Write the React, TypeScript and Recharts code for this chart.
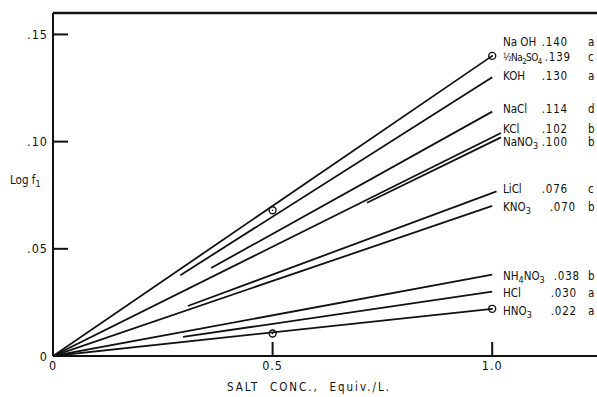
import React from 'react';
import { ComposedChart, Line, Scatter, XAxis, YAxis, ReferenceLine } from 'recharts';

// Salting-out coefficients: slope of log f1 against salt concentration
const salts = ['NaOH', 'KOH', 'NaCl', 'KCl', 'NaNO3', 'LiCl', 'KNO3', 'NH4NO3', 'HCl', 'HNO3'];
const slopes = [0.14, 0.13, 0.114, 0.102, 0.1, 0.076, 0.07, 0.038, 0.03, 0.022];
// concentration range over which each straight line is drawn (Equiv./L.)
const concFrom = [0, 0.29, 0.36, 0, 0.715, 0.307, 0, 0, 0.296, 0];
const concTo = [1.0, 1.0, 1.0, 1.02, 1.02, 1.01, 1.0, 1.0, 1.0, 1.0];

// circled experimental points
const markConc = [0.5, 1.0, 0.5, 1.0];
const markLogF = [0.068, 0.14, 0.0105, 0.022];

// key on the right-hand side
const keyNames = ['Na OH', '½Na_2SO_4', 'KOH', 'NaCl', 'KCl', 'NaNO_3', 'LiCl', 'KNO_3', 'NH_4NO_3', 'HCl', 'HNO_3'];
const keyValues = ['.140', '.139', '.130', '.114', '.102', '.100', '.076', '.070', '.038', '.030', '.022'];
const keySources = ['a', 'c', 'a', 'd', 'b', 'b', 'c', 'b', 'b', 'a', 'a'];

const xTicks = [0, 0.5, 1.0];
const xTickLabels = ['0', '0.5', '1.0'];
const yTicks = [0, 0.05, 0.1, 0.15];
const yTickLabels = ['0', '.05', '.10', '.15'];

// layout of the key rows (vertical position in log f units, column offsets in px)
const KEY_X = 1.0246;
const KEY_ROW_Y = [0.1463, 0.1393, 0.1304, 0.1154, 0.1061, 0.1, 0.0778, 0.0696, 0.0374, 0.0294, 0.021];
const KEY_VALUE_END = [65, 68, 65, 65, 65, 65, 65, 73, 77, 74, 74];
const KEY_NAME_SIZE = [11.5, 10, 11.5, 11.5, 11.5, 11.5, 11.5, 11.5, 11.5, 11.5, 11.5];
const KEY_NAME_SPACING = [0, -0.6, 0, 0, 0, 0, 0, 0, 0, 0, 0];

const FONT = "'DejaVu Sans Condensed', 'DejaVu Sans', sans-serif";
const INK = '#111';

const lineData = salts.map((_, i) => [
  { x: concFrom[i], y: slopes[i] * concFrom[i] },
  { x: concTo[i], y: slopes[i] * concTo[i] },
]);
const markData = markConc.map((x, i) => ({ x, y: markLogF[i] }));
const keyData = keyNames.map((_, i) => ({ x: KEY_X, y: KEY_ROW_Y[i], i }));

function chem(name: string, size: number) {
  const out: React.ReactNode[] = [];
  let low = false;
  name.split(/(_\d)/).filter(Boolean).forEach((p, k) => {
    if (p[0] === '_') {
      out.push(
        <tspan key={k} dy={low ? undefined : 3} fontSize={size * 0.78}>
          {p.slice(1)}
        </tspan>
      );
      low = true;
    } else {
      out.push(
        <tspan key={k} dy={low ? -3 : undefined}>
          {p}
        </tspan>
      );
      low = false;
    }
  });
  return out;
}

const YTick = (props: any) => {
  const { x, y, payload } = props;
  const idx = yTicks.indexOf(payload.value);
  return (
    <g>
      <text x={x} y={y + 4.5} textAnchor="end" fontSize={12.5} letterSpacing={1} fill={INK} fontFamily={FONT}>
        {yTickLabels[idx]}
      </text>
      {payload.value > 0 && <line x1={x + 5} x2={x + 20} y1={y} y2={y} stroke={INK} strokeWidth={2} />}
    </g>
  );
};

const XTick = (props: any) => {
  const { x, y, payload } = props;
  const idx = xTicks.indexOf(payload.value);
  return (
    <g>
      <text x={x} y={y + 10} textAnchor="middle" fontSize={12.5} letterSpacing={1} fill={INK} fontFamily={FONT}>
        {xTickLabels[idx]}
      </text>
      {payload.value > 0 && <line x1={x} x2={x} y1={y - 4} y2={y - 18} stroke={INK} strokeWidth={2} />}
    </g>
  );
};

const Mark = (props: any) => {
  const { cx, cy } = props;
  return (
    <g>
      <circle cx={cx} cy={cy} r={3.5} fill="none" stroke={INK} strokeWidth={1.4} />
      <circle cx={cx} cy={cy} r={0.8} fill={INK} />
    </g>
  );
};

const KeyRow = (props: any) => {
  const { cx, cy, payload } = props;
  const i = payload.i;
  return (
    <g fill={INK} fontFamily={FONT} fontSize={11.5}>
      <text x={cx} y={cy + 4} fontSize={KEY_NAME_SIZE[i]} letterSpacing={KEY_NAME_SPACING[i]}>
        {chem(keyNames[i], KEY_NAME_SIZE[i])}
      </text>
      <text x={cx + KEY_VALUE_END[i]} y={cy + 4} textAnchor="end" letterSpacing={0.8}>
        {keyValues[i]}
      </text>
      <text x={cx + 85} y={cy + 4}>{keySources[i]}</text>
    </g>
  );
};

const YTitle = (props: any) => {
  const { viewBox } = props;
  const y = viewBox.y + viewBox.height / 2 - 1;
  return (
    <text x={10} y={y} fill={INK} fontFamily={FONT} fontSize={11.5}>
      Log f<tspan dy={3} fontSize={9}>1</tspan>
    </text>
  );
};

const XTitle = (props: any) => {
  const { viewBox } = props;
  return (
    <text
      x={viewBox.x + 174}
      y={viewBox.y + 35}
      fill={INK}
      fontFamily={FONT}
      fontSize={11.5}
      letterSpacing={2}
      style={{ whiteSpace: 'pre' }}
    >
      {'SALT  CONC.,  Equiv./L.'}
    </text>
  );
};

export default function App() {
  return (
    <div style={{ position: 'absolute', left: 0, top: 0, width: 597, height: 397, overflow: 'hidden', background: '#fff' }}>
      <ComposedChart width={610} height={397} margin={{ top: 13, right: 8, bottom: 0, left: 0 }}>
        <XAxis
          type="number"
          dataKey="x"
          domain={[0, 1.25]}
          ticks={xTicks}
          tick={<XTick />}
          tickSize={0}
          tickMargin={4}
          height={41}
          axisLine={{ stroke: INK, strokeWidth: 2 }}
          tickLine={false}
          allowDataOverflow
          label={<XTitle />}
        />
        <YAxis
          type="number"
          dataKey="y"
          domain={[0, 0.16]}
          ticks={yTicks}
          tick={<YTick />}
          tickSize={0}
          tickMargin={5}
          width={53}
          axisLine={{ stroke: INK, strokeWidth: 2 }}
          tickLine={false}
          allowDataOverflow
          label={<YTitle />}
        />
        <ReferenceLine y={0.16} stroke={INK} strokeWidth={2.5} />
        {salts.map((s, i) => (
          <Line
            key={s}
            data={lineData[i]}
            dataKey="y"
            type="linear"
            stroke={INK}
            strokeWidth={1.8}
            dot={false}
            activeDot={false}
            isAnimationActive={false}
          />
        ))}
        <Scatter data={markData} dataKey="y" shape={<Mark />} isAnimationActive={false} />
        <Scatter data={keyData} dataKey="y" shape={<KeyRow />} isAnimationActive={false} />
      </ComposedChart>
    </div>
  );
}
